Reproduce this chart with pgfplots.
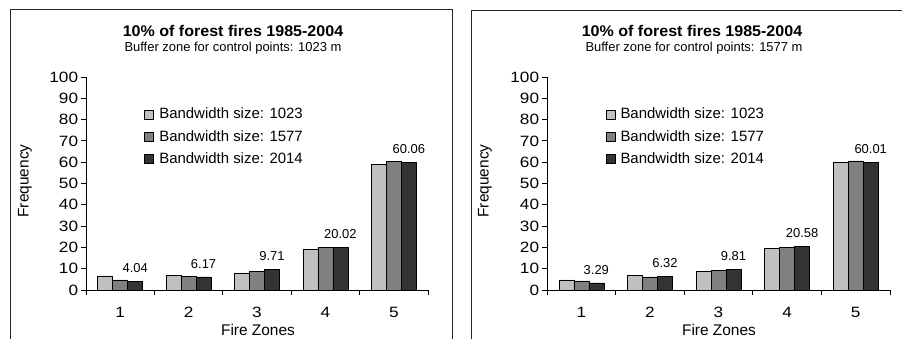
\documentclass[border=0pt]{standalone}
\usepackage{fontspec}
\setmainfont{Liberation Sans}
\usepackage{pgfplots}
\pgfplotsset{compat=1.18}
\usepackage{pgfplotstable}

\definecolor{barA}{HTML}{C0C0C0}
\definecolor{barB}{HTML}{808080}
\definecolor{barC}{HTML}{333333}

% Frequency per fire zone for three bandwidth sizes
\pgfplotstableread{
zone a    b    c
1    6.6  4.8  4.04
2    6.7  6.3  6.17
3    8.0  8.7  9.71
4    18.9 20.0 20.02
5    59.0 60.5 60.06
}\bufferA

\pgfplotstableread{
zone a    b    c
1    4.7  4.3  3.29
2    6.8  6.2  6.32
3    8.6  9.2  9.81
4    19.7 20.1 20.58
5    60.1 60.6 60.01
}\bufferB

\pgfplotsset{
  firestyle/.style={
    scale only axis, width=342bp, height=213bp, anchor=south west,
    xmin=0.5, xmax=5.5, ymin=0, ymax=100,
    axis x line*=bottom, axis y line*=left,
    axis line style={black, line width=0.8pt, -},
    xtick={1,...,5}, major x tick style={draw=none},
    minor xtick={0.5,1.5,...,5.5},
    ytick={0,10,...,100},
    tick align=outside, major tick length=5bp, minor tick length=5bp,
    tick style={black, line width=0.8pt},
    ticklabel style={font=\fontsize{15}{15}\selectfont, xscale=1.15},
    xticklabel style={yshift=-9bp},
    yticklabel style={xshift=1bp},
    /pgf/number format/assume math mode=true,
    ybar=0pt, bar width=15bp,
    legend style={draw=none, fill=none, at={(0.17,0.862)}, anchor=north west,
      font=\fontsize{15}{15}\selectfont, row sep=7bp, inner sep=0pt,
      nodes={inner sep=1.5bp}},
    legend cell align=left,
    legend image code/.code={\draw[##1, draw=black, line width=0.5pt] (0bp,-4.5bp) rectangle (9bp,4.5bp);
      \path (13bp,0bp);},
    clip=false,
  },
  valuelabels/.style={
    nodes near coords,
    nodes near coords style={font=\fontsize{13}{13}\selectfont, yshift=5bp,
      /pgf/number format/.cd, fixed, precision=2, fixed zerofill, assume math mode=true},
  },
}

\begin{document}
\begin{tikzpicture}
\path[use as bounding box] (0bp,0bp) rectangle (902bp,339bp);
\clip (0bp,0bp) rectangle (902bp,339bp);

% panel frames
\draw[line width=1pt, black!85] (10bp,-5bp) -- (10bp,329.5bp) -- (452bp,329.5bp) -- (452bp,-5bp);
\draw[line width=1pt, black!85] (471.7bp,-5bp) -- (471.7bp,328.5bp) -- (910bp,328.5bp);

% left panel
\node[font=\fontsize{15.5}{16}\selectfont\bfseries, xscale=1.04] at (233bp,308bp) {10\% of forest fires 1985-2004};
\node[font=\fontsize{13}{14}\selectfont] at (233bp,291bp) {Buffer zone for control points: 1023 m};
\node[font=\fontsize{15.5}{16}\selectfont, rotate=90] at (25bp,158bp) {Frequency};
\node[font=\fontsize{15.5}{16}\selectfont] at (258bp,9bp) {Fire Zones};

\begin{axis}[firestyle, at={(86bp,49bp)}]
\addplot[fill=barA, draw=black, line width=0.5pt] table[x=zone, y=a] {\bufferA};
\addplot[fill=barB, draw=black, line width=0.5pt] table[x=zone, y=b] {\bufferA};
\addplot[fill=barC, draw=black, line width=0.5pt, valuelabels] table[x=zone, y=c] {\bufferA};
\legend{Bandwidth size: 1023, Bandwidth size: 1577, Bandwidth size: 2014}
\end{axis}

% right panel
\node[font=\fontsize{15.5}{16}\selectfont\bfseries, xscale=1.04] at (692bp,308bp) {10\% of forest fires 1985-2004};
\node[font=\fontsize{13}{14}\selectfont] at (694bp,291bp) {Buffer zone for control points: 1577 m};
\node[font=\fontsize{15.5}{16}\selectfont, rotate=90] at (485bp,158bp) {Frequency};
\node[font=\fontsize{15.5}{16}\selectfont] at (719bp,9bp) {Fire Zones};

\begin{axis}[firestyle, at={(547bp,49bp)}, width=343bp]
\addplot[fill=barA, draw=black, line width=0.5pt] table[x=zone, y=a] {\bufferB};
\addplot[fill=barB, draw=black, line width=0.5pt] table[x=zone, y=b] {\bufferB};
\addplot[fill=barC, draw=black, line width=0.5pt, valuelabels] table[x=zone, y=c] {\bufferB};
\legend{Bandwidth size: 1023, Bandwidth size: 1577, Bandwidth size: 2014}
\end{axis}
\end{tikzpicture}
\end{document}
